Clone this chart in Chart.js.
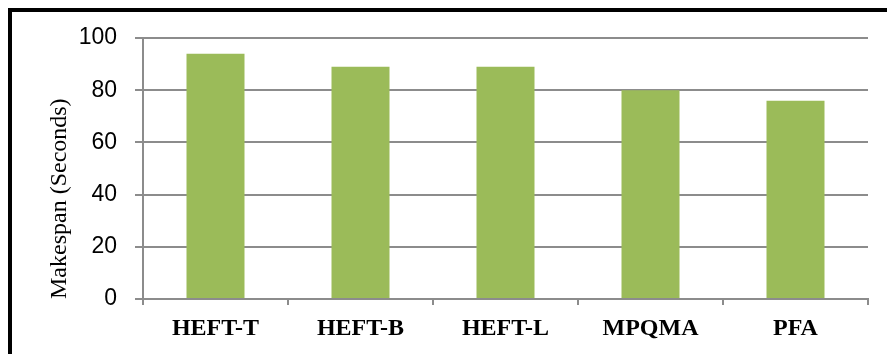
<!DOCTYPE html>
<html>
<head>
<meta charset="utf-8">
<script src="https://cdn.jsdelivr.net/npm/chart.js@4/dist/chart.umd.min.js"></script>
<style>
  html, body { margin: 0; padding: 0; background: #fff; overflow: hidden; }
  #wrap { position: relative; width: 887px; height: 354px; }
  #frame {
    position: absolute; left: 8px; top: 8px;
    width: 1000px; height: 500px;
    border-left: 4px solid #000; border-top: 4px solid #000;
    pointer-events: none;
  }
</style>
</head>
<body>
<div id="wrap">
  <canvas id="makespanChart" width="887" height="354"></canvas>
  <div id="frame"></div>
</div>
<script>
// Algoritmos comparados y su makespan medido (segundos)
const categories = ['HEFT-T', 'HEFT-B', 'HEFT-L', 'MPQMA', 'PFA'];
const makespanValues = [94, 89, 89, 80, 76];
const yTickValues = [0, 20, 40, 60, 80, 100];

const barColor = '#9BBB59';
const gridColor = '#8c8c8c';

const ctx = document.getElementById('makespanChart').getContext('2d');

new Chart(ctx, {
  type: 'bar',
  data: {
    labels: categories,
    datasets: [{
      label: 'Makespan',
      data: makespanValues,
      backgroundColor: barColor,
      borderWidth: 0,
      categoryPercentage: 1,
      barPercentage: 0.4
    }]
  },
  options: {
    responsive: false,
    animation: false,
    layout: {
      padding: { left: 0, top: 38, right: 19, bottom: 0 }
    },
    plugins: {
      legend: { display: false },
      tooltip: { enabled: false }
    },
    scales: {
      x: {
        grid: {
          offset: true,
          drawOnChartArea: false,
          drawTicks: true,
          tickLength: 6,
          color: gridColor,
          lineWidth: 2
        },
        border: { color: gridColor, width: 2 },
        ticks: {
          color: '#000',
          padding: 9,
          font: { family: 'Liberation Serif', size: 24, weight: 'bold' }
        },
        afterFit: (scale) => { scale.height = 55; }
      },
      y: {
        min: 0,
        max: 100,
        afterBuildTicks: (scale) => {
          scale.ticks = yTickValues.map(v => ({ value: v }));
        },
        grid: {
          color: gridColor,
          lineWidth: 2,
          tickLength: 8
        },
        border: { color: gridColor, width: 2 },
        ticks: {
          color: '#000',
          padding: 18,
          font: { family: 'Liberation Sans', size: 23 }
        },
        title: {
          display: true,
          text: 'Makespan (Seconds)',
          align: 'start',
          color: '#000',
          padding: { top: 45, bottom: 0 },
          font: { family: 'Liberation Serif', size: 24 }
        },
        afterFit: (scale) => { scale.width = 143; }
      }
    }
  }
});
</script>
</body>
</html>
